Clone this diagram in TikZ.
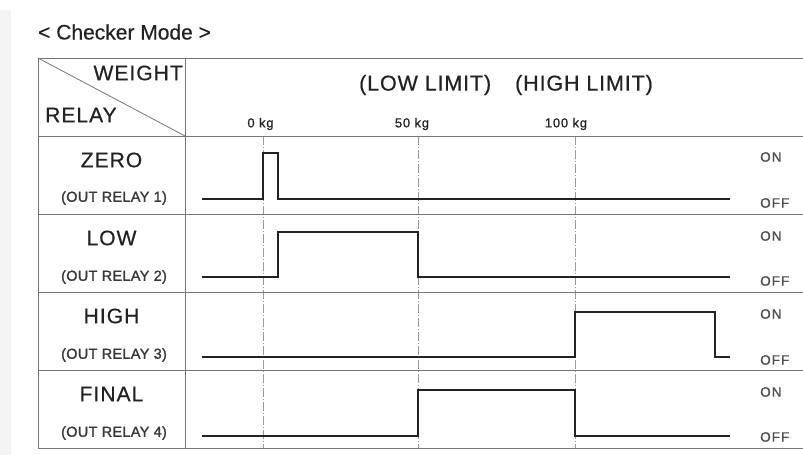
\documentclass[tikz,border=0pt]{standalone}
\usepackage{fontspec}
\setmainfont{Liberation Sans}
\newfontfamily\titlefont[FakeBold=0.4]{Liberation Sans}
\newfontfamily\hdrfont[LetterSpace=5,FakeBold=0.6]{Liberation Sans}
\newfontfamily\limfont[LetterSpace=4,FakeBold=0.6]{Liberation Sans}
\newfontfamily\smallfont[LetterSpace=2,FakeBold=1.4]{Liberation Sans}
\newfontfamily\kgfont[LetterSpace=6,FakeBold=0.8]{Liberation Sans}
\newfontfamily\onofffont[LetterSpace=8,FakeBold=1.2]{Liberation Sans}
\definecolor{ink}{HTML}{222222}
\definecolor{grid}{HTML}{777777}
\definecolor{guide}{HTML}{9A9A9A}
\tikzset{
  tbl/.style={draw=grid, line width=1pt},
  guideline/.style={draw=guide, line width=0.6pt, dash pattern=on 9pt off 2pt on 1pt off 2pt},
  signal/.style={draw=ink, line width=1.8pt, line join=miter},
  big/.style={font=\hdrfont\fontsize{21}{22}\selectfont, text=ink, inner sep=0pt},
  lim/.style={font=\limfont\fontsize{21.5}{23}\selectfont, text=ink, inner sep=0pt, anchor=west},
  sub/.style={font=\smallfont\fontsize{14.5}{16}\selectfont, text=ink!90, inner sep=0pt},
  kg/.style={font=\kgfont\fontsize{13}{14}\selectfont, text=ink, inner sep=0pt},
  onoff/.style={font=\onofffont\fontsize{13.5}{15}\selectfont, text=ink!80, inner sep=0pt, anchor=west},
}
\begin{document}
\begin{tikzpicture}[x=1pt, y=-1pt]
\useasboundingbox (0,0) rectangle (803,455);
\fill[gray!9] (0,10) rectangle (11,455);
% title
\node[font=\titlefont\fontsize{21}{23}\selectfont, text=ink, anchor=west, inner sep=0pt] (title) at (38,32) {< Checker Mode >};
% guide lines
\coordinate (g0t) at (263,136); \coordinate (g0b) at (263,448);
\coordinate (g1t) at (418,136); \coordinate (g1b) at (418,448);
\coordinate (g2t) at (575,136); \coordinate (g2b) at (575,448);
\draw[guideline] (g0t) -- (g0b);
\draw[guideline] (g1t) -- (g1b);
\draw[guideline] (g2t) -- (g2b);
% table
\coordinate (tl) at (38,58); \coordinate (tr) at (803,58);
\coordinate (cd) at (185,136);
\draw[tbl] (tl) -- (tr);
\draw[tbl] (38,136) -- (803,136);
\draw[tbl] (38,214) -- (803,214);
\draw[tbl] (38,292) -- (803,292);
\draw[tbl] (38,370) -- (803,370);
\draw[tbl] (38,448) -- (803,448);
\draw[tbl] (38,58) -- (38,448);
\draw[tbl] (185,58) -- (185,448);
\draw[draw=grid, line width=0.8pt] (tl) -- (cd);
% header texts
\node[big, anchor=east] (weight) at (183,73) {WEIGHT};
\node[big, anchor=west] (relay) at (45,115) {RELAY};
\node[lim] (lowlim) at (359,85) {(LOW LIMIT)};
\node[lim] (highlim) at (515,85) {(HIGH LIMIT)};
\node[kg] (kg0) at (260.5,124) {0 kg};
\node[kg] (kg50) at (412,124) {50 kg};
\node[kg] (kg100) at (566,124) {100 kg};
% row labels
\node[big] (zero) at (111.5,160) {ZERO};
\node[sub] (r1) at (114,198) {(OUT RELAY 1)};
\node[big] (low) at (111.5,238) {LOW};
\node[sub] (r2) at (114,277) {(OUT RELAY 2)};
\node[big] (high) at (111.5,316) {HIGH};
\node[sub] (r3) at (114,355) {(OUT RELAY 3)};
\node[big] (final) at (111.5,394) {FINAL};
\node[sub] (r4) at (114,433) {(OUT RELAY 4)};
% ON / OFF
\node[onoff] (on1) at (760,157) {ON};
\node[onoff] (off1) at (760,203) {OFF};
\node[onoff] (on2) at (760,236) {ON};
\node[onoff] (off2) at (760,281) {OFF};
\node[onoff] (on3) at (760,314) {ON};
\node[onoff] (off3) at (760,360) {OFF};
\node[onoff] (on4) at (760,392) {ON};
\node[onoff] (off4) at (760,437) {OFF};
% signals
\draw[signal] (202,199) -- (263,199) -- (263,153) -- (278,153) -- (278,199) -- (730,199);
\draw[signal] (202,277) -- (278,277) -- (278,232) -- (418,232) -- (418,277) -- (730,277);
\draw[signal] (202,357) -- (575,357) -- (575,312) -- (715,312) -- (715,357) -- (730,357);
\draw[signal] (202,436) -- (418,436) -- (418,390) -- (575,390) -- (575,436) -- (730,436);
\end{tikzpicture}
\end{document}
